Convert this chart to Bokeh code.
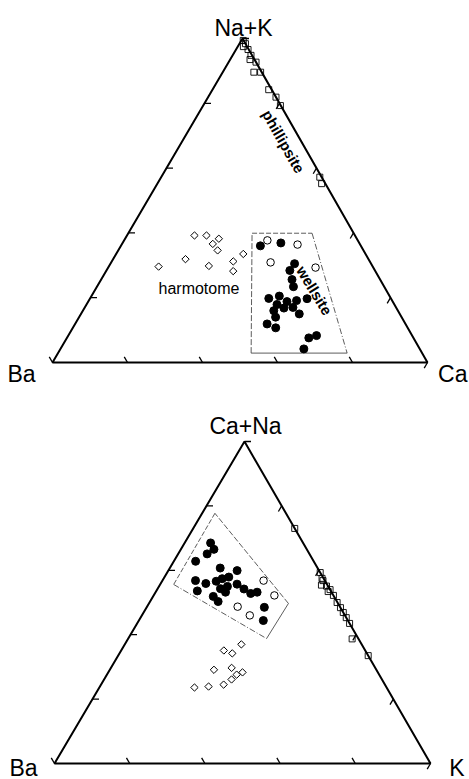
import numpy as np
from bokeh.plotting import figure
from bokeh.models import Range1d
from bokeh.embed import file_html
from bokeh.resources import INLINE
from bokeh.core.properties import value

# ---------------- DATA (percent) ----------------
# Top diagram: apex Na+K, left Ba, right Ca
top_labels = ["Na+K", "Ba", "Ca"]
# phillipsite (open squares)
phil_top_nak = [99.4, 98.4, 97.5, 96.6, 94.8, 93.5, 92.7, 89.6, 89.6, 84.2, 81.9, 79.3, 57.2, 55.2]
phil_top_ba  = [0.1, 0.0, 1.0, 0.2, 0.3, 1.2, 0.0, 2.1, 0.3, 0.8, 0.0, 0.1, 0.5, 1.0]
phil_top_ca  = [0.5, 1.6, 1.5, 3.2, 4.9, 5.3, 7.3, 8.3, 10.1, 15.0, 18.1, 20.6, 42.3, 43.8]
# harmotome (open diamonds)
harm_top_nak = [39.2, 39.2, 38.2, 36.6, 34.6, 31.9, 29.6, 29.8, 31.2, 33.5, 28.2]
harm_top_ba  = [42.8, 39.6, 36.8, 39.2, 38.9, 48.8, 57.1, 43.6, 36.4, 32.6, 37.9]
harm_top_ca  = [18.0, 21.2, 25.0, 24.2, 26.5, 19.3, 13.3, 26.6, 32.4, 33.9, 33.9]
# wellsite (filled circles)
well_top_nak = [36.0, 36.9, 30.5, 28.4, 25.6, 23.4, 19.8, 20.5, 17.9, 18.8, 19.1, 19.7,
                16.0, 16.8, 17.0, 15.0, 14.0, 11.9, 10.7, 7.6, 8.3, 4.2]
well_top_ba  = [26.8, 20.9, 20.4, 22.7, 23.5, 24.2, 32.6, 29.4, 31.3, 28.2, 25.5, 22.4,
                33.1, 30.0, 27.5, 26.8, 33.6, 36.9, 35.2, 27.9, 25.5, 30.9]
well_top_ca  = [37.2, 42.2, 49.1, 48.9, 50.9, 52.4, 47.7, 50.1, 50.8, 53.0, 55.4, 57.9,
                50.9, 53.2, 55.5, 58.2, 52.4, 51.2, 54.1, 64.5, 66.2, 64.9]
# open circles
oc_top_nak = [37.7, 36.4, 30.9, 29.3]
oc_top_ba  = [24.1, 16.7, 26.6, 15.4]
oc_top_ca  = [38.2, 46.9, 42.5, 55.3]
# wellsite field outline
box_top_nak = [39.9, 39.9, 2.9, 2.9]
box_top_ba  = [27.1, 11.1, 20.0, 45.6]
box_top_ca  = [33.0, 49.0, 77.1, 51.5]

# Bottom diagram: apex Ca+Na, left Ba, right K
bot_labels = ["Ca+Na", "Ba", "K"]
phil_bot_can = [73.0, 59.3, 57.5, 56.8, 55.4, 55.1, 54.0, 53.4, 52.2, 50.0, 48.4, 46.9, 45.3, 43.5, 38.7, 33.5]
phil_bot_ba  = [0.0, 0.0, 0.4, 0.5, 1.6, 0.4, 0.0, 0.8, 0.0, 0.1, 0.0, 0.0, 0.0, 0.0, 1.7, 0.0]
phil_bot_k   = [27.0, 40.7, 42.1, 42.7, 43.0, 44.5, 46.0, 45.8, 47.8, 49.9, 51.6, 53.1, 54.7, 56.5, 59.6, 66.5]
harm_bot_can = [37.0, 35.1, 34.2, 29.1, 29.7, 27.6, 28.3, 23.6, 23.9, 24.5, 26.1]
harm_bot_ba  = [32.0, 37.6, 35.8, 43.2, 38.2, 37.9, 36.0, 51.1, 47.2, 42.9, 40.0]
harm_bot_k   = [31.0, 27.3, 30.0, 27.7, 32.1, 34.5, 35.7, 25.3, 28.9, 32.6, 33.9]
well_bot_can = [68.5, 66.5, 65.1, 62.8, 60.7, 59.9, 56.8, 55.9, 53.6, 56.6, 57.4, 57.9,
                55.0, 54.3, 55.7, 54.2, 52.8, 53.2, 53.2, 51.9, 50.3, 48.5, 44.4]
well_bot_ba  = [24.6, 24.7, 27.2, 31.4, 25.9, 21.8, 34.4, 32.1, 35.5, 29.0, 27.0, 25.0,
                26.8, 29.0, 23.9, 22.8, 21.7, 19.8, 28.2, 32.1, 31.6, 20.2, 22.5]
well_bot_k   = [6.9, 8.8, 7.7, 5.8, 13.4, 18.3, 8.8, 12.0, 10.9, 14.4, 15.6, 17.1,
                18.2, 16.7, 20.4, 23.0, 25.5, 27.0, 18.6, 16.0, 18.1, 31.3, 33.1]
oc_bot_can = [56.8, 52.2, 48.7, 46.0]
oc_bot_ba  = [16.3, 15.7, 27.2, 25.3]
oc_bot_k   = [26.9, 32.1, 24.1, 28.7]
box_bot_can = [77.7, 55.6, 38.8, 49.7]
box_bot_ba  = [18.9, 40.8, 24.4, 13.2]
box_bot_k   = [3.4, 3.6, 36.8, 37.1]

tick_fracs = [0.0, 0.2, 0.4, 0.6, 0.8]

# ---------------- LAYOUT ----------------
# the rendered page places the figure at its top-left corner
W, H = 469, 779
p = figure(width=W, height=H, output_backend="svg", toolbar_location=None,
           x_range=Range1d(0, W), y_range=Range1d(-H, 0),
           min_border=0, border_fill_color="white", background_fill_color="white")
p.xaxis.visible = False
p.yaxis.visible = False
p.xgrid.visible = False
p.ygrid.visible = False
p.outline_line_color = None

FONT = value("Liberation Sans")


def make_mapper(A, B, C):
    A = np.array(A, float); B = np.array(B, float); C = np.array(C, float)

    def f(a, b, c):
        a = np.asarray(a, float); b = np.asarray(b, float); c = np.asarray(c, float)
        s = a + b + c
        x = (a * A[0] + b * B[0] + c * C[0]) / s
        y = (a * A[1] + b * B[1] + c * C[1]) / s
        return x, -y
    return f, A, B, C


def draw_triangle(A, B, C):
    f, A, B, C = make_mapper(A, B, C)
    xs = [A[0], B[0], C[0], A[0]]
    ys = [-A[1], -B[1], -C[1], -A[1]]
    p.line(xs, ys, line_color="black", line_width=2.0)
    L = 6.5
    x0s, y0s, x1s, y1s = [], [], [], []
    for S, E, D in [(B, C, A - C), (C, A, B - A), (A, B, C - B)]:
        d = D / np.linalg.norm(D)
        for t in tick_fracs:
            P = S + t * (E - S)
            Q = P + L * d
            x0s.append(P[0]); y0s.append(-P[1]); x1s.append(Q[0]); y1s.append(-Q[1])
    p.segment(x0s, y0s, x1s, y1s, line_color="black", line_width=1.3)
    return f


def draw_box(f, a, b, c):
    x, y = f(a, b, c)
    dashes = ["5 2", "6 2 1 2", "solid", "6 2"]
    for i in range(4):
        j = (i + 1) % 4
        p.line([x[i], x[j]], [y[i], y[j]], line_color="#333333", line_width=0.8,
               line_dash=dashes[i])


def draw_points(f, sq, dm, fc, oc):
    x, y = f(*sq)
    p.scatter(x, y, marker="square", size=6, fill_color=None, line_color="black", line_width=0.9)
    x, y = f(*dm)
    p.scatter(x, y, marker="square", angle=np.pi / 4, size=5.2, fill_color="white",
              line_color="black", line_width=1.0)
    x, y = f(*fc)
    p.scatter(x, y, marker="circle", size=8, fill_color="black", line_color="black")
    x, y = f(*oc)
    p.scatter(x, y, marker="circle", size=7.5, fill_color="white", line_color="black", line_width=1.0)


# ---- top diagram ----
A1, B1, C1 = (242, 38), (52, 362), (427, 362)
f1 = draw_triangle(A1, B1, C1)
draw_box(f1, box_top_nak, box_top_ba, box_top_ca)
draw_points(f1, (phil_top_nak, phil_top_ba, phil_top_ca),
            (harm_top_nak, harm_top_ba, harm_top_ca),
            (well_top_nak, well_top_ba, well_top_ca),
            (oc_top_nak, oc_top_ba, oc_top_ca))

# ---- bottom diagram ----
A2, B2, C2 = (244, 441), (54, 763), (430, 763)
f2 = draw_triangle(A2, B2, C2)
draw_box(f2, box_bot_can, box_bot_ba, box_bot_k)
draw_points(f2, (phil_bot_can, phil_bot_ba, phil_bot_k),
            (harm_bot_can, harm_bot_ba, harm_bot_k),
            (well_bot_can, well_bot_ba, well_bot_k),
            (oc_bot_can, oc_bot_ba, oc_bot_k))

# ---- vertex labels ----
def lab(x, y, t, align, size="23px"):
    p.text(x=[x], y=[-y], text=[t], text_font=FONT, text_font_size=size,
           text_align=align, text_baseline="alphabetic", text_color="black")

lab(A1[0] + 1, A1[1] - 11, top_labels[0], "center")
lab(7, B1[1] + 11, top_labels[1], "left")
lab(467, C1[1] + 11, top_labels[2], "right")
lab(A2[0] + 1, A2[1] - 16, bot_labels[0], "center")
lab(9, B2[1] + 4, bot_labels[1], "left")
lab(464, C2[1] + 4, bot_labels[2], "right")

# ---- field labels ----
p.text(x=[158], y=[-288], text=["harmotome"], text_font=FONT, text_font_size="16px",
       text_align="left", text_baseline="alphabetic")
p.text(x=[283], y=[-141], text=["phillipsite"], text_font=FONT, text_font_size="15px",
       text_font_style="bold", text_align="center", text_baseline="middle",
       angle=-np.deg2rad(60.3))
p.text(x=[314], y=[-290], text=["wellsite"], text_font=FONT, text_font_size="15px",
       text_font_style="bold", text_align="center", text_baseline="middle",
       angle=-np.deg2rad(58.7))

open("out.html", "w").write(file_html(p, INLINE))
